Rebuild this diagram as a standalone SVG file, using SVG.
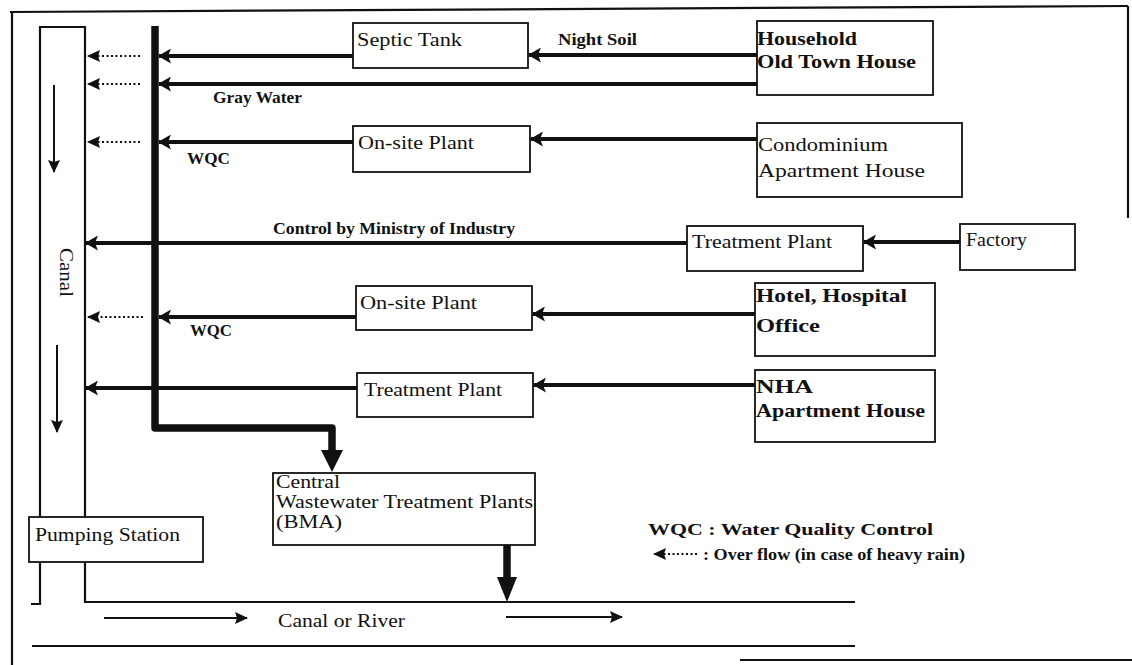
<svg xmlns="http://www.w3.org/2000/svg" width="1132" height="665" viewBox="0 0 1132 665">
<style>
  .bx { fill:#fff; stroke:#111; stroke-width:1.8; }
  .t { font-family:"Liberation Serif","Times New Roman",serif; font-size:19px; fill:#111; }
  .tb { font-family:"Liberation Serif","Times New Roman",serif; font-size:17px; font-weight:bold; fill:#111; }
  .ln { fill:none; stroke:#111; stroke-width:2.2; }
  .pipe { fill:none; stroke:#111; stroke-width:4; }
  .thick { fill:none; stroke:#111; stroke-width:7.5; stroke-linejoin:round; }
  .dot { fill:none; stroke:#111; stroke-width:1.8; stroke-dasharray:2 2.5; }
  .thin { fill:none; stroke:#111; stroke-width:2; }
</style>
<defs>
  <marker id="ah" viewBox="0 0 13 15" refX="12" refY="7.5" markerWidth="13" markerHeight="15" markerUnits="userSpaceOnUse" orient="auto">
    <path d="M0,0 L13,7.5 L0,15 L3,7.5 z" fill="#111"/>
  </marker>
  <marker id="ahs" viewBox="0 0 13 12" refX="12" refY="6" markerWidth="13" markerHeight="12" markerUnits="userSpaceOnUse" orient="auto">
    <path d="M0,0 L13,6 L0,12 L2,6 z" fill="#111"/>
  </marker>
  <marker id="ahb" viewBox="0 0 22 22" refX="1" refY="11" markerWidth="22" markerHeight="22" markerUnits="userSpaceOnUse" orient="auto">
    <path d="M0,0 L22,11 L0,22 z" fill="#111"/>
  </marker>
  <marker id="ahb2" viewBox="0 0 25 20" refX="1" refY="10" markerWidth="25" markerHeight="20" markerUnits="userSpaceOnUse" orient="auto">
    <path d="M0,0 L25,10 L0,20 z" fill="#111"/>
  </marker>
</defs>
<rect width="1132" height="665" fill="#fff"/>

<g id="frame" class="ln">
  <path d="M10,12 L1128,6"/>
  <path d="M12,12 V665"/>
  <path d="M1128,6 V218"/>
  <path d="M740,660 H1132"/>
</g>

<g id="canal">
  <path class="ln" d="M31,604 H40 V27 H85 V602 H855"/>
  <path class="ln" d="M32,646 H855"/>
  <text class="t" transform="translate(60,248) rotate(90)" textLength="49" lengthAdjust="spacingAndGlyphs">Canal</text>
  <path class="thin" d="M54,85 V172" marker-end="url(#ahs)"/>
  <path class="thin" d="M57,345 V432" marker-end="url(#ahs)"/>
</g>

<g id="river">
  <text class="t" x="278" y="627" textLength="127" lengthAdjust="spacingAndGlyphs">Canal or River</text>
  <path class="thin" d="M104,618 H247" marker-end="url(#ahs)"/>
  <path class="thin" d="M506,617 H622" marker-end="url(#ahs)"/>
</g>

<g id="connectors">
  <path class="thick" d="M155,26 V428 H332 V451" marker-end="url(#ahb)"/>
  <path class="thick" d="M507,545 V578" marker-end="url(#ahb2)"/>
  <path class="pipe" d="M353,56 H159" marker-end="url(#ah)"/>
  <path class="pipe" d="M757,55 H529" marker-end="url(#ah)"/>
  <path class="pipe" d="M757,84 H159" marker-end="url(#ah)"/>
  <path class="pipe" d="M353,142 H159" marker-end="url(#ah)"/>
  <path class="pipe" d="M757,139 H531" marker-end="url(#ah)"/>
  <path class="pipe" d="M687,243 H86" marker-end="url(#ah)"/>
  <path class="pipe" d="M960,242 H864" marker-end="url(#ah)"/>
  <path class="pipe" d="M356,317 H159" marker-end="url(#ah)"/>
  <path class="pipe" d="M755,314 H533" marker-end="url(#ah)"/>
  <path class="pipe" d="M357,388 H86" marker-end="url(#ah)"/>
  <path class="pipe" d="M755,385 H534" marker-end="url(#ah)"/>
  <path class="dot" d="M140,56 H88" marker-end="url(#ahs)"/>
  <path class="dot" d="M140,84 H88" marker-end="url(#ahs)"/>
  <path class="dot" d="M140,142 H88" marker-end="url(#ahs)"/>
  <path class="dot" d="M143,317 H88" marker-end="url(#ahs)"/>
  <text class="tb" x="558" y="45" textLength="79" lengthAdjust="spacingAndGlyphs">Night Soil</text>
  <text class="tb" x="213" y="103" font-size="16" textLength="89" lengthAdjust="spacingAndGlyphs">Gray Water</text>
  <text class="tb" x="187" y="164" font-size="16" textLength="43" lengthAdjust="spacingAndGlyphs">WQC</text>
  <text class="tb" x="273" y="234" textLength="242" lengthAdjust="spacingAndGlyphs">Control by Ministry of Industry</text>
  <text class="tb" x="190" y="336" font-size="16" textLength="42" lengthAdjust="spacingAndGlyphs">WQC</text>
</g>

<g id="septic-tank">
  <rect class="bx" x="353" y="23" width="175" height="45"/>
  <text class="t" x="357" y="46" textLength="105" lengthAdjust="spacingAndGlyphs">Septic Tank</text>
</g>
<g id="household">
  <rect class="bx" x="757" y="21" width="176" height="74"/>
  <text class="t" x="757" y="45" font-weight="bold" textLength="100" lengthAdjust="spacingAndGlyphs">Household</text>
  <text class="t" x="757" y="68" font-weight="bold" textLength="159" lengthAdjust="spacingAndGlyphs">Old Town House</text>
</g>
<g id="onsite-plant-1">
  <rect class="bx" x="353" y="126" width="177" height="46"/>
  <text class="t" x="358" y="149" textLength="116" lengthAdjust="spacingAndGlyphs">On-site Plant</text>
</g>
<g id="condominium">
  <rect class="bx" x="757" y="123" width="205" height="74"/>
  <text class="t" x="758" y="151" textLength="130" lengthAdjust="spacingAndGlyphs">Condominium</text>
  <text class="t" x="758" y="177" textLength="167" lengthAdjust="spacingAndGlyphs">Apartment House</text>
</g>
<g id="treatment-plant-1">
  <rect class="bx" x="687" y="226" width="176" height="45"/>
  <text class="t" x="692" y="248" textLength="140" lengthAdjust="spacingAndGlyphs">Treatment Plant</text>
</g>
<g id="factory">
  <rect class="bx" x="960" y="224" width="115" height="46"/>
  <text class="t" x="966" y="246" textLength="61" lengthAdjust="spacingAndGlyphs">Factory</text>
</g>
<g id="onsite-plant-2">
  <rect class="bx" x="356" y="286" width="176" height="44"/>
  <text class="t" x="360" y="309" textLength="117" lengthAdjust="spacingAndGlyphs">On-site Plant</text>
</g>
<g id="hotel">
  <rect class="bx" x="755" y="283" width="180" height="73"/>
  <text class="t" x="756" y="302" font-weight="bold" textLength="151" lengthAdjust="spacingAndGlyphs">Hotel, Hospital</text>
  <text class="t" x="756" y="332" font-weight="bold" textLength="64" lengthAdjust="spacingAndGlyphs">Office</text>
</g>
<g id="treatment-plant-2">
  <rect class="bx" x="357" y="373" width="176" height="44"/>
  <text class="t" x="364" y="396" textLength="138" lengthAdjust="spacingAndGlyphs">Treatment Plant</text>
</g>
<g id="nha">
  <rect class="bx" x="755" y="370" width="180" height="72"/>
  <text class="t" x="756" y="393" font-weight="bold" textLength="57" lengthAdjust="spacingAndGlyphs">NHA</text>
  <text class="t" x="756" y="417" font-weight="bold" textLength="169" lengthAdjust="spacingAndGlyphs">Apartment House</text>
</g>
<g id="central-wwtp">
  <rect class="bx" x="273" y="473" width="262" height="72"/>
  <text class="t" x="276" y="488" font-size="14" textLength="64" lengthAdjust="spacingAndGlyphs">Central</text>
  <text class="t" x="276" y="508" font-size="14" textLength="257" lengthAdjust="spacingAndGlyphs">Wastewater Treatment Plants</text>
  <text class="t" x="276" y="528" font-size="14" textLength="66" lengthAdjust="spacingAndGlyphs">(BMA)</text>
</g>
<g id="pumping-station">
  <rect class="bx" x="29" y="517" width="174" height="45"/>
  <text class="t" x="35" y="541" textLength="145" lengthAdjust="spacingAndGlyphs">Pumping Station</text>
</g>

<g id="legend">
  <text class="tb" x="648" y="535" font-size="16" textLength="285" lengthAdjust="spacingAndGlyphs">WQC : Water Quality Control</text>
  <path class="dot" d="M697,554 H654" marker-end="url(#ahs)"/>
  <text class="tb" x="703" y="560" font-size="16" textLength="262" lengthAdjust="spacingAndGlyphs">: Over flow (in case of heavy rain)</text>
</g>
</svg>
